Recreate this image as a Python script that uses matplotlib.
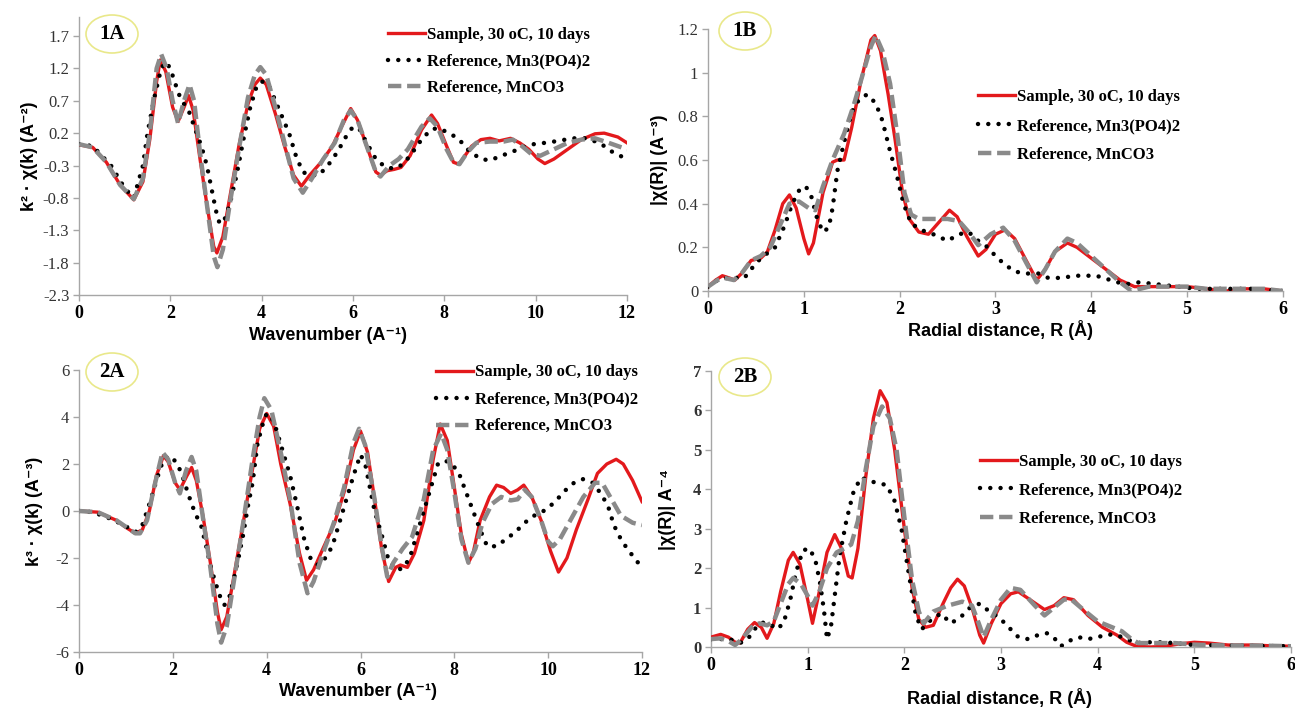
import matplotlib
matplotlib.use("Agg")
import matplotlib.pyplot as plt
from matplotlib.patches import Ellipse

# ── Data ─────────────────────────────────────────────────────────────────────
LABELS = ["Sample, 30 oC, 10 days", "Reference, Mn3(PO4)2", "Reference, MnCO3"]

# 1A : k^2-weighted chi(k)
k1a_red = [0.0, 0.3, 0.6, 0.9, 1.2, 1.4, 1.55, 1.7, 1.78, 1.9, 2.05, 2.17, 2.3, 2.4, 2.5,
           2.65, 2.8, 2.95, 3.02, 3.15, 3.3, 3.5, 3.7, 3.85, 3.97, 4.1, 4.3, 4.5, 4.7, 4.87,
           5.05, 5.3, 5.55, 5.75, 5.95, 6.1, 6.3, 6.5, 6.6, 6.75, 6.9, 7.05, 7.25, 7.5, 7.72,
           7.85, 8.05, 8.2, 8.32, 8.45, 8.6, 8.8, 9.0, 9.2, 9.45, 9.65, 9.85, 10.05, 10.2,
           10.4, 10.7, 11.0, 11.3, 11.5, 11.8, 12.0]
v1a_red = [0.02, -0.02, -0.25, -0.6, -0.83, -0.55, 0.1, 1.0, 1.33, 1.15, 0.6, 0.38, 0.6, 0.78, 0.55,
           -0.2, -0.9, -1.55, -1.65, -1.4, -0.8, 0.0, 0.65, 0.95, 1.05, 0.95, 0.5, 0.0, -0.45, -0.62,
           -0.45, -0.25, 0.0, 0.3, 0.58, 0.4, 0.0, -0.4, -0.45, -0.38, -0.36, -0.33, -0.15, 0.25, 0.48,
           0.35, 0.0, -0.25, -0.28, -0.15, 0.0, 0.1, 0.12, 0.08, 0.12, 0.05, -0.05, -0.2, -0.27,
           -0.2, -0.05, 0.1, 0.19, 0.2, 0.14, 0.05]

k1a_blk = [0.0, 0.3, 0.7, 1.0, 1.2, 1.4, 1.5, 1.65, 1.8, 1.9, 2.0, 2.1, 2.2, 2.3, 2.4, 2.55,
           2.68, 2.8, 2.9, 3.0, 3.08, 3.18, 3.3, 3.45, 3.6, 3.75, 3.88, 4.0, 4.15, 4.3, 4.45,
           4.6, 4.75, 4.9, 5.05, 5.25, 5.45, 5.65, 5.85, 6.0, 6.15, 6.3, 6.5, 6.7, 6.9, 7.1,
           7.3, 7.5, 7.7, 7.85, 8.05, 8.3, 8.55, 8.8, 9.0, 9.25, 9.55, 9.85, 10.2, 10.5, 10.8,
           11.1, 11.4, 11.7, 12.0]
v1a_blk = [0.03, 0.0, -0.3, -0.65, -0.8, -0.3, 0.2, 0.75, 1.2, 1.3, 1.2, 0.98, 0.78, 0.65, 0.55, 0.25,
           0.0, -0.3, -0.65, -1.0, -1.2, -1.15, -0.9, -0.45, 0.1, 0.6, 0.9, 1.0, 0.95, 0.7, 0.45,
           0.2, -0.15, -0.4, -0.45, -0.45, -0.3, -0.1, 0.15, 0.3, 0.25, 0.05, -0.2, -0.32, -0.35, -0.28,
           -0.1, 0.1, 0.25, 0.28, 0.22, 0.12, -0.08, -0.2, -0.22, -0.15, -0.07, 0.02, 0.05, 0.08, 0.12,
           0.12, 0.05, -0.1, -0.2]

k1a_gry = [0.0, 0.3, 0.6, 0.9, 1.2, 1.4, 1.55, 1.7, 1.8, 1.92, 2.05, 2.17, 2.3, 2.42, 2.52,
           2.65, 2.8, 2.95, 3.03, 3.15, 3.3, 3.5, 3.7, 3.85, 3.97, 4.1, 4.3, 4.5, 4.7, 4.9,
           5.1, 5.35, 5.6, 5.8, 5.95, 6.1, 6.3, 6.5, 6.6, 6.8, 7.0, 7.2, 7.5, 7.68, 7.85,
           8.05, 8.2, 8.33, 8.5, 8.7, 9.0, 9.3, 9.5, 9.7, 9.9, 10.1, 10.4, 10.7, 11.0, 11.3,
           11.6, 11.8, 12.0]
v1a_gry = [0.03, -0.02, -0.25, -0.6, -0.82, -0.5, 0.2, 1.2, 1.42, 1.2, 0.7, 0.35, 0.7, 0.95, 0.7,
           -0.1, -0.9, -1.7, -1.87, -1.6, -0.9, -0.05, 0.75, 1.1, 1.22, 1.1, 0.6, 0.05, -0.5, -0.72,
           -0.5, -0.2, 0.05, 0.4, 0.55, 0.4, 0.0, -0.4, -0.47, -0.3, -0.2, -0.05, 0.3, 0.43, 0.3,
           -0.05, -0.25, -0.28, -0.1, 0.05, 0.07, 0.07, 0.1, 0.0, -0.12, -0.15, -0.05, 0.05, 0.1, 0.12,
           0.05, 0.0, -0.05]

# 1B : |chi(R)|, k^2-weighted
r1b_red = [0.0, 0.08, 0.15, 0.22, 0.28, 0.35, 0.45, 0.55, 0.62, 0.7, 0.78, 0.85, 0.92, 1.0,
           1.05, 1.1, 1.2, 1.3, 1.35, 1.42, 1.5, 1.6, 1.7, 1.74, 1.8, 1.88, 1.95, 2.03, 2.1,
           2.2, 2.3, 2.42, 2.52, 2.6, 2.7, 2.82, 2.9, 3.0, 3.1, 3.2, 3.32, 3.43, 3.52, 3.62,
           3.75, 3.85, 4.0, 4.15, 4.3, 4.45, 4.6, 4.8, 5.0, 5.2, 5.4, 5.6, 5.8, 6.0]
v1b_red = [0.02, 0.05, 0.07, 0.06, 0.05, 0.08, 0.14, 0.15, 0.18, 0.28, 0.4, 0.44, 0.38, 0.24,
           0.17, 0.22, 0.45, 0.59, 0.6, 0.6, 0.75, 0.97, 1.15, 1.17, 1.1, 0.9, 0.7, 0.45, 0.33,
           0.27, 0.26, 0.32, 0.37, 0.34, 0.25, 0.16, 0.19, 0.26, 0.28, 0.24, 0.14, 0.05, 0.1, 0.18,
           0.22, 0.2, 0.15, 0.1, 0.05, 0.02, 0.02, 0.02, 0.02, 0.01, 0.0, 0.01, 0.01, 0.0]

r1b_blk = [0.0, 0.1, 0.2, 0.3, 0.38, 0.45, 0.55, 0.7, 0.8, 0.88, 0.95, 1.02, 1.08, 1.14, 1.2,
           1.26, 1.3, 1.35, 1.42, 1.5, 1.58, 1.66, 1.75, 1.82, 1.9, 1.97, 2.04, 2.12, 2.22,
           2.35, 2.5, 2.62, 2.72, 2.82, 2.92, 3.0, 3.1, 3.2, 3.3, 3.45, 3.55, 3.7, 3.82, 3.95,
           4.05, 4.2, 4.35, 4.5, 4.7, 4.9, 5.1, 5.4, 5.7, 6.0]
v1b_blk = [0.02, 0.05, 0.06, 0.06, 0.06, 0.1, 0.15, 0.2, 0.3, 0.4, 0.46, 0.48, 0.43, 0.33, 0.27,
           0.29, 0.38, 0.55, 0.68, 0.82, 0.88, 0.9, 0.86, 0.78, 0.64, 0.53, 0.4, 0.31, 0.28,
           0.26, 0.23, 0.26, 0.27, 0.23, 0.2, 0.16, 0.12, 0.09, 0.08, 0.08, 0.06, 0.06, 0.07, 0.07,
           0.07, 0.05, 0.03, 0.04, 0.03, 0.02, 0.01, 0.01, 0.01, 0.0]

r1b_gry = [0.0, 0.1, 0.17, 0.27, 0.35, 0.45, 0.55, 0.65, 0.75, 0.85, 0.95, 1.05, 1.12, 1.2,
           1.3, 1.42, 1.52, 1.62, 1.7, 1.75, 1.82, 1.9, 1.98, 2.05, 2.12, 2.2, 2.35, 2.5, 2.62,
           2.72, 2.82, 2.95, 3.08, 3.2, 3.32, 3.43, 3.52, 3.62, 3.75, 3.85, 4.0, 4.15, 4.3, 4.42,
           4.6, 4.8, 5.0, 5.2, 5.5, 5.8, 6.0]
v1b_gry = [0.02, 0.05, 0.06, 0.05, 0.08, 0.14, 0.16, 0.2, 0.3, 0.4, 0.41, 0.38, 0.37, 0.48,
           0.6, 0.72, 0.85, 1.0, 1.12, 1.17, 1.1, 0.95, 0.7, 0.45, 0.35, 0.33, 0.33, 0.33, 0.32,
           0.27, 0.21, 0.26, 0.29, 0.23, 0.13, 0.04, 0.1, 0.18, 0.24, 0.22, 0.16, 0.1, 0.04, 0.0,
           0.02, 0.02, 0.02, 0.01, 0.01, 0.01, 0.0]

# 2A : k^3-weighted chi(k)
k2a_red = [0.0, 0.4, 0.8, 1.0, 1.2, 1.35, 1.5, 1.65, 1.8, 1.9, 2.05, 2.15, 2.3, 2.4, 2.5,
           2.65, 2.8, 2.95, 3.03, 3.15, 3.3, 3.5, 3.7, 3.85, 4.0, 4.15, 4.3, 4.5, 4.7, 4.85,
           5.0, 5.2, 5.45, 5.65, 5.85, 6.0, 6.15, 6.3, 6.45, 6.6, 6.75, 6.85, 7.0, 7.15, 7.35,
           7.55, 7.7, 7.85, 8.0, 8.15, 8.3, 8.4, 8.55, 8.75, 8.9, 9.05, 9.2, 9.35, 9.48, 9.65,
           9.85, 10.05, 10.22, 10.4, 10.6, 10.85, 11.05, 11.25, 11.45, 11.6, 11.8, 12.0]
v2a_red = [0.0, -0.05, -0.4, -0.7, -0.95, -0.8, 0.0, 1.5, 2.35, 2.1, 1.2, 0.9, 1.5, 1.85, 1.3,
           -0.3, -2.2, -4.3, -5.05, -4.5, -2.8, -0.5, 1.8, 3.5, 4.15, 3.6, 2.0, 0.3, -1.8, -2.95,
           -2.5, -1.6, -0.5, 0.8, 2.6, 3.4, 2.5, 0.5, -1.6, -3.0, -2.4, -2.3, -2.4, -1.8, -0.4,
           2.2, 3.7, 3.0, 1.0, -1.0, -2.2, -1.8, -0.4, 0.6, 1.1, 1.0, 0.75, 0.9, 1.1, 0.6,
           -0.4, -1.7, -2.6, -2.0, -0.8, 0.5, 1.6, 2.0, 2.2, 2.0, 1.3, 0.4]

k2a_blk = [0.0, 0.3, 0.7, 1.0, 1.2, 1.35, 1.5, 1.65, 1.8, 1.95, 2.1, 2.2, 2.3, 2.4, 2.5, 2.6,
           2.7, 2.8, 2.9, 3.0, 3.1, 3.2, 3.3, 3.4, 3.5, 3.6, 3.7, 3.8, 3.9, 4.0, 4.1, 4.2,
           4.35, 4.5, 4.65, 4.8, 4.95, 5.1, 5.25, 5.4, 5.55, 5.7, 5.85, 6.0, 6.1, 6.2, 6.3,
           6.45, 6.6, 6.75, 6.9, 7.05, 7.2, 7.35, 7.5, 7.65, 7.8, 7.95, 8.1, 8.25, 8.4, 8.55,
           8.7, 8.9, 9.1, 9.3, 9.5, 9.7, 9.95, 10.15, 10.35, 10.55, 10.75, 10.95, 11.1, 11.27,
           11.4, 11.55, 11.7, 11.9, 12.0]
v2a_blk = [0.0, -0.05, -0.35, -0.65, -0.9, -0.6, 0.3, 1.3, 2.2, 2.35, 2.0, 1.5, 0.9, 0.3, -0.2, -0.6,
           -1.4, -2.3, -3.0, -3.6, -4.0, -3.7, -2.9, -2.0, -1.0, 0.2, 1.2, 2.8, 3.6, 4.15, 4.0, 3.5,
           2.5, 1.5, 0.2, -1.2, -2.1, -2.3, -2.0, -1.5, -0.5, 0.5, 1.5, 2.4, 2.0, 1.0, 0.0,
           -1.0, -2.1, -2.5, -2.45, -2.0, -1.0, 0.0, 1.0, 2.0, 2.15, 2.0, 1.6, 0.8, 0.0, -0.8,
           -1.5, -1.5, -1.2, -0.9, -0.5, -0.2, 0.05, 0.4, 0.85, 1.2, 1.36, 1.2, 0.8, 0.25,
           -0.6, -1.2, -1.65, -2.15, -2.5]

k2a_gry = [0.0, 0.4, 0.8, 1.2, 1.3, 1.45, 1.6, 1.78, 1.9, 2.05, 2.15, 2.28, 2.4, 2.5, 2.65,
           2.8, 2.95, 3.03, 3.15, 3.3, 3.5, 3.7, 3.85, 3.95, 4.1, 4.3, 4.5, 4.7, 4.87, 5.0,
           5.2, 5.45, 5.65, 5.85, 5.97, 6.1, 6.3, 6.45, 6.57, 6.7, 6.9, 7.1, 7.35, 7.55, 7.72,
           7.85, 8.0, 8.15, 8.3, 8.45, 8.6, 8.8, 9.0, 9.2, 9.35, 9.5, 9.65, 9.85, 10.0, 10.1,
           10.25, 10.5, 10.75, 11.0, 11.15, 11.35, 11.55, 11.8, 12.0]
v2a_gry = [0.0, -0.05, -0.4, -0.95, -0.95, -0.4, 1.0, 2.5, 2.2, 1.2, 0.75, 1.7, 2.3, 1.7, -0.4,
           -2.4, -4.8, -5.6, -4.9, -3.0, -0.5, 2.2, 4.0, 4.8, 4.3, 2.5, 0.5, -2.2, -3.5, -3.0,
           -1.8, -0.4, 1.0, 2.9, 3.5, 2.8, 0.5, -1.5, -2.8, -2.2, -1.6, -1.1, 0.5, 2.6, 3.3,
           2.6, 0.8, -1.2, -2.2, -1.6, -0.5, 0.3, 0.6, 0.45, 0.5, 0.9, 0.6, -0.4, -1.3, -1.5,
           -1.2, -0.3, 0.6, 1.2, 1.2, 0.5, -0.2, -0.5, -0.6]

# 2B : |chi(R)|, k^3-weighted
r2b_red = [0.0, 0.1, 0.18, 0.25, 0.3, 0.38, 0.45, 0.52, 0.58, 0.65, 0.72, 0.8, 0.85, 0.92,
           1.0, 1.05, 1.12, 1.2, 1.28, 1.35, 1.42, 1.46, 1.52, 1.6, 1.68, 1.75, 1.82, 1.9,
           2.0, 2.08, 2.15, 2.22, 2.3, 2.4, 2.48, 2.55, 2.62, 2.7, 2.78, 2.82, 2.9, 3.0, 3.1,
           3.18, 3.3, 3.45, 3.55, 3.65, 3.75, 3.9, 4.05, 4.2, 4.3, 4.4, 4.55, 4.7, 4.85, 5.0,
           5.15, 5.35, 5.6, 5.8, 6.0]
v2b_red = [0.25, 0.32, 0.25, 0.12, 0.1, 0.45, 0.62, 0.5, 0.22, 0.6, 1.4, 2.2, 2.4, 2.1,
           1.2, 0.6, 1.4, 2.4, 2.85, 2.5, 1.8, 1.75, 2.5, 4.3, 5.8, 6.5, 6.2, 5.0,
           3.0, 1.5, 0.7, 0.5, 0.55, 1.1, 1.5, 1.72, 1.55, 1.0, 0.3, 0.1, 0.6, 1.1, 1.35,
           1.4, 1.2, 0.95, 1.05, 1.25, 1.2, 0.8, 0.5, 0.3, 0.12, 0.02, 0.0, 0.02, 0.08, 0.12,
           0.1, 0.05, 0.05, 0.03, 0.02]

r2b_blk = [0.0, 0.12, 0.22, 0.3, 0.38, 0.45, 0.52, 0.6, 0.68, 0.75, 0.82, 0.88, 0.95, 1.02,
           1.08, 1.13, 1.17, 1.2, 1.24, 1.28, 1.33, 1.4, 1.47, 1.55, 1.65, 1.75, 1.82, 1.9,
           1.97, 2.05, 2.12, 2.18, 2.28, 2.38, 2.48, 2.58, 2.68, 2.78, 2.88, 2.98, 3.08, 3.18,
           3.28, 3.38, 3.48, 3.56, 3.62, 3.7, 3.8, 3.9, 4.0, 4.1, 4.2, 4.3, 4.4, 4.5, 4.65,
           4.8, 5.0, 5.3, 5.6, 6.0]
v2b_blk = [0.2, 0.2, 0.18, 0.1, 0.2, 0.45, 0.62, 0.6, 0.45, 0.6, 1.2, 1.9, 2.45, 2.5,
           2.2, 1.6, 0.9, 0.2, 0.5, 1.3, 2.3, 3.2, 3.9, 4.3, 4.2, 4.15, 4.1, 3.7,
           3.0, 1.8, 0.8, 0.45, 0.7, 0.85, 0.6, 0.75, 1.0, 1.1, 0.9, 0.75, 0.5, 0.25,
           0.2, 0.3, 0.35, 0.2, 0.02, 0.15, 0.25, 0.2, 0.25, 0.32, 0.3, 0.2, 0.1, 0.12, 0.12,
           0.1, 0.05, 0.04, 0.03, 0.02]

r2b_gry = [0.0, 0.1, 0.18, 0.25, 0.32, 0.42, 0.5, 0.58, 0.65, 0.72, 0.8, 0.85, 0.93, 1.0,
           1.05, 1.12, 1.2, 1.3, 1.38, 1.45, 1.52, 1.6, 1.68, 1.77, 1.85, 1.92, 2.0, 2.08,
           2.15, 2.2, 2.3, 2.45, 2.6, 2.7, 2.77, 2.82, 2.9, 3.0, 3.1, 3.2, 3.35, 3.45, 3.55,
           3.65, 3.72, 3.85, 4.0, 4.15, 4.25, 4.35, 4.42, 4.6, 4.8, 5.0, 5.3, 5.6, 6.0]
v2b_gry = [0.2, 0.22, 0.15, 0.05, 0.2, 0.5, 0.6, 0.55, 0.65, 1.1, 1.6, 1.75, 1.6, 1.3,
           1.05, 1.4, 2.0, 2.4, 2.5, 2.6, 3.2, 4.5, 5.6, 6.1, 5.8, 5.0, 3.3, 1.7,
           0.9, 0.6, 0.9, 1.05, 1.15, 1.05, 0.6, 0.25, 0.7, 1.2, 1.5, 1.45, 1.05, 0.8, 1.0,
           1.2, 1.22, 0.95, 0.65, 0.5, 0.4, 0.2, 0.1, 0.1, 0.1, 0.06, 0.04, 0.04, 0.02]

# ── Styling ──────────────────────────────────────────────────────────────────
RED = "#e3191c"
GRAY = "#8a8a8a"
SPINE = "#a6a6a6"
SERIF = ["Liberation Serif", "DejaVu Serif"]
SANS = ["Liberation Sans", "DejaVu Sans"]

fig = plt.figure(figsize=(12.95, 7.09), dpi=100)
W, H = 1295.0, 709.0


def px_axes(left, right, top, bottom):
    return fig.add_axes([left / W, 1 - bottom / H, (right - left) / W, (bottom - top) / H])


def style(ax, xlim, ylim, xticks, yticks, yfmt, bold_y=False):
    ax.set_xlim(*xlim)
    ax.set_ylim(*ylim)
    ax.set_xticks(xticks)
    ax.set_yticks(yticks)
    ax.set_xticklabels([str(t) for t in xticks], family=SERIF, fontweight="bold", fontsize=13)
    ax.set_yticklabels([yfmt(t) for t in yticks], family=SERIF, fontsize=12,
                       fontweight="bold" if bold_y else "normal", color="#333333")
    for s in ("top", "right"):
        ax.spines[s].set_visible(False)
    for s in ("left", "bottom"):
        ax.spines[s].set_color(SPINE)
        ax.spines[s].set_linewidth(1.0)
    ax.tick_params(direction="out", length=4, width=1, color=SPINE, pad=3)


def labels(ax, xlabel, ylabel, xpos, ypos):
    ax.set_xlabel(xlabel, family=SANS, fontweight="bold", fontsize=13)
    ax.xaxis.set_label_coords(*xpos)
    ax.set_ylabel(ylabel, family=SANS, fontweight="bold", fontsize=13)
    ax.yaxis.set_label_coords(*ypos)


def draw(ax, x_r, y_r, x_b, y_b, x_g, y_g):
    ax.plot(x_r, y_r, color=RED, lw=2.4, label=LABELS[0], zorder=3)
    ax.plot(x_b, y_b, color="black", lw=3.2, linestyle=(0, (0.01, 2.3)),
            dash_capstyle="round", label=LABELS[1], zorder=4)
    ax.plot(x_g, y_g, color=GRAY, lw=3.2, linestyle=(0, (3.0, 1.3)),
            dash_capstyle="butt", label=LABELS[2], zorder=5)


def legend(ax, x, y, spacing):
    ax.legend(loc="upper left", bbox_to_anchor=(x, y), frameon=False, borderpad=0,
              borderaxespad=0, handlelength=2.2, handletextpad=0.15, labelspacing=spacing,
              prop={"family": SERIF, "weight": "bold", "size": 12})


def badge(cx, cy, text):
    fig.patches.append(Ellipse((cx / W, 1 - cy / H), 52 / W, 38 / H, transform=fig.transFigure,
                               facecolor="white", edgecolor="#e9e88a", lw=1.2, zorder=10))
    fig.text(cx / W, 1 - cy / H, text, ha="center", va="center", family=SERIF,
             fontweight="bold", fontsize=15, zorder=11)


# ── 1A ───────────────────────────────────────────────────────────────────────
ax1a = px_axes(79, 627, 16.6, 295)
draw(ax1a, k1a_red, v1a_red, k1a_blk, v1a_blk, k1a_gry, v1a_gry)
style(ax1a, (0, 12), (-2.3, 2.0), [0, 2, 4, 6, 8, 10, 12],
      [-2.3, -1.8, -1.3, -0.8, -0.3, 0.2, 0.7, 1.2, 1.7], lambda t: f"{t:.1f}")
labels(ax1a, "Wavenumber (A⁻¹)", "k² · χ(k) (A⁻²)", (0.455, -0.115), (-0.075, 0.5))
legend(ax1a, 0.564, 0.962, 0.62)

# ── 1B ───────────────────────────────────────────────────────────────────────
ax1b = px_axes(708, 1283, 29, 291)
draw(ax1b, r1b_red, v1b_red, r1b_blk, v1b_blk, r1b_gry, v1b_gry)
style(ax1b, (0, 6), (0, 1.2), [0, 1, 2, 3, 4, 5, 6],
      [0, 0.2, 0.4, 0.6, 0.8, 1.0, 1.2], lambda t: f"{t:g}")
labels(ax1b, "Radial distance, R (Å)", "|χ(R)| (A⁻³)", (0.508, -0.11), (-0.07, 0.5))
legend(ax1b, 0.47, 0.77, 0.78)

# ── 2A ───────────────────────────────────────────────────────────────────────
ax2a = px_axes(79, 642, 370, 652)
draw(ax2a, k2a_red, v2a_red, k2a_blk, v2a_blk, k2a_gry, v2a_gry)
style(ax2a, (0, 12), (-6, 6), [0, 2, 4, 6, 8, 10, 12],
      [-6, -4, -2, 0, 2, 4, 6], lambda t: f"{t:g}")
labels(ax2a, "Wavenumber (A⁻¹)", "k³ · χ(k) (A⁻³)", (0.496, -0.11), (-0.064, 0.5))
legend(ax2a, 0.634, 1.02, 0.66)

# ── 2B ───────────────────────────────────────────────────────────────────────
ax2b = px_axes(711, 1291, 371, 647)
draw(ax2b, r2b_red, v2b_red, r2b_blk, v2b_blk, r2b_gry, v2b_gry)
style(ax2b, (0, 6), (0, 7), [0, 1, 2, 3, 4, 5, 6],
      [0, 1, 2, 3, 4, 5, 6, 7], lambda t: f"{t:g}", bold_y=True)
labels(ax2b, "Radial distance, R (Å)", "|χ(R)| A⁻⁴", (0.498, -0.149), (-0.06, 0.5))
legend(ax2b, 0.464, 0.70, 0.74)

badge(112, 34, "1A")
badge(745, 31, "1B")
badge(112, 372, "2A")
badge(745, 377, "2B")

fig.savefig("out.png", dpi=100, facecolor="white")
